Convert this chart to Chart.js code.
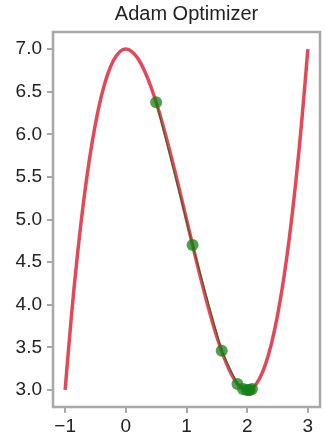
<!DOCTYPE html>
<html lang="en">
<head>
  <meta charset="UTF-8" />
  <title>Adam Optimizer</title>
  <style>
    html, body { margin: 0; padding: 0; background: #fff; }
    #wrap { width: 326px; height: 440px; }
  </style>
</head>
<body>
  <div id="wrap"><canvas id="myChart" width="326" height="440"></canvas></div>

  <script src="https://cdn.jsdelivr.net/npm/chart.js"></script>
  <script>
    // curve
    const curveX = [-1.0, -0.9, -0.8, -0.7, -0.6, -0.5, -0.4, -0.3, -0.2, -0.1, 0.0,
      0.1, 0.2, 0.3, 0.4, 0.5, 0.6, 0.7, 0.8, 0.9, 1.0,
      1.1, 1.2, 1.3, 1.4, 1.5, 1.6, 1.7, 1.8, 1.9, 2.0,
      2.1, 2.2, 2.3, 2.4, 2.5, 2.6, 2.7, 2.8, 2.9, 3.0];
    const curveY = [3.0, 3.841, 4.568, 5.187, 5.704, 6.125, 6.456, 6.703, 6.872, 6.969, 7.0,
      6.971, 6.888, 6.757, 6.584, 6.375, 6.136, 5.873, 5.592, 5.299, 5.0,
      4.701, 4.408, 4.127, 3.864, 3.625, 3.416, 3.243, 3.112, 3.029, 3.0,
      3.031, 3.128, 3.297, 3.544, 3.875, 4.296, 4.813, 5.432, 6.159, 7.0];

    // optimizer steps (green)
    const stepX = [0.5, 1.1, 1.58, 1.84, 1.93, 1.99, 2.04, 2.08, 2.03];
    const stepY = [6.375, 4.70, 3.46, 3.07, 3.01, 3.0, 3.0, 3.01, 3.0];

    const xTicks = [-1, 0, 1, 2, 3];
    const yTicks = [3.0, 3.5, 4.0, 4.5, 5.0, 5.5, 6.0, 6.5, 7.0];

    const toPts = (xs, ys) => xs.map((x, i) => ({ x: x, y: ys[i] }));

    const frame = {
      id: "frame",
      afterDraw(chart) {
        const a = chart.chartArea;
        const c = chart.ctx;
        c.save();
        c.strokeStyle = "#a8a8a8";
        c.lineWidth = 2.5;
        c.strokeRect(a.left, a.top, a.right - a.left, a.bottom - a.top);
        c.restore();
      },
    };

    Chart.defaults.font.family = "'Liberation Sans', Arial, sans-serif";
    Chart.defaults.color = "#222";

    new Chart(document.getElementById("myChart"), {
      type: "scatter",
      data: {
        datasets: [
          {
            data: toPts(curveX, curveY),
            showLine: true,
            borderColor: "rgba(222, 40, 60, 0.85)",
            borderWidth: 3.5,
            pointRadius: 0,
            tension: 0.3,
            order: 2,
          },
          {
            data: toPts(stepX, stepY),
            showLine: true,
            borderColor: "rgba(30, 100, 20, 0.8)",
            borderWidth: 1.2,
            backgroundColor: "rgba(20, 130, 20, 0.75)",
            pointBorderWidth: 0,
            pointRadius: 6,
            order: 1,
          },
        ],
      },
      plugins: [frame],
      options: {
        responsive: false,
        animation: false,
        layout: { padding: { left: 0, right: 1, top: 0, bottom: 0 } },
        plugins: {
          legend: { display: false },
          tooltip: { enabled: false },
          title: {
            display: true,
            text: "Adam Optimizer",
            fullSize: false,
            color: "#222",
            font: { size: 20, weight: "normal" },
            padding: { top: 2, bottom: 6 },
          },
        },
        scales: {
          x: {
            type: "linear",
            min: -1.2,
            max: 3.2,
            afterBuildTicks: (s) => { s.ticks = xTicks.map((v) => ({ value: v })); },
            afterFit: (s) => { s.height = 33; },
            ticks: {
              font: { size: 19 },
              padding: 2,
              maxRotation: 0,
              callback: (v) => (v < 0 ? "\u2212" + Math.abs(v) : String(v)),
            },
            grid: { drawOnChartArea: false, drawTicks: true, tickLength: 6, color: "#a8a8a8", lineWidth: 2 },
            border: { display: false },
          },
          y: {
            min: 2.8,
            max: 7.2,
            afterBuildTicks: (s) => { s.ticks = yTicks.map((v) => ({ value: v })); },
            afterFit: (s) => { s.width = 53; },
            ticks: {
              font: { size: 19 },
              padding: 5,
              callback: (v) => Number(v).toFixed(1),
            },
            grid: { drawOnChartArea: false, drawTicks: true, tickLength: 6, color: "#a8a8a8", lineWidth: 2 },
            border: { display: false },
          },
        },
      },
    });
  </script>
</body>
</html>
